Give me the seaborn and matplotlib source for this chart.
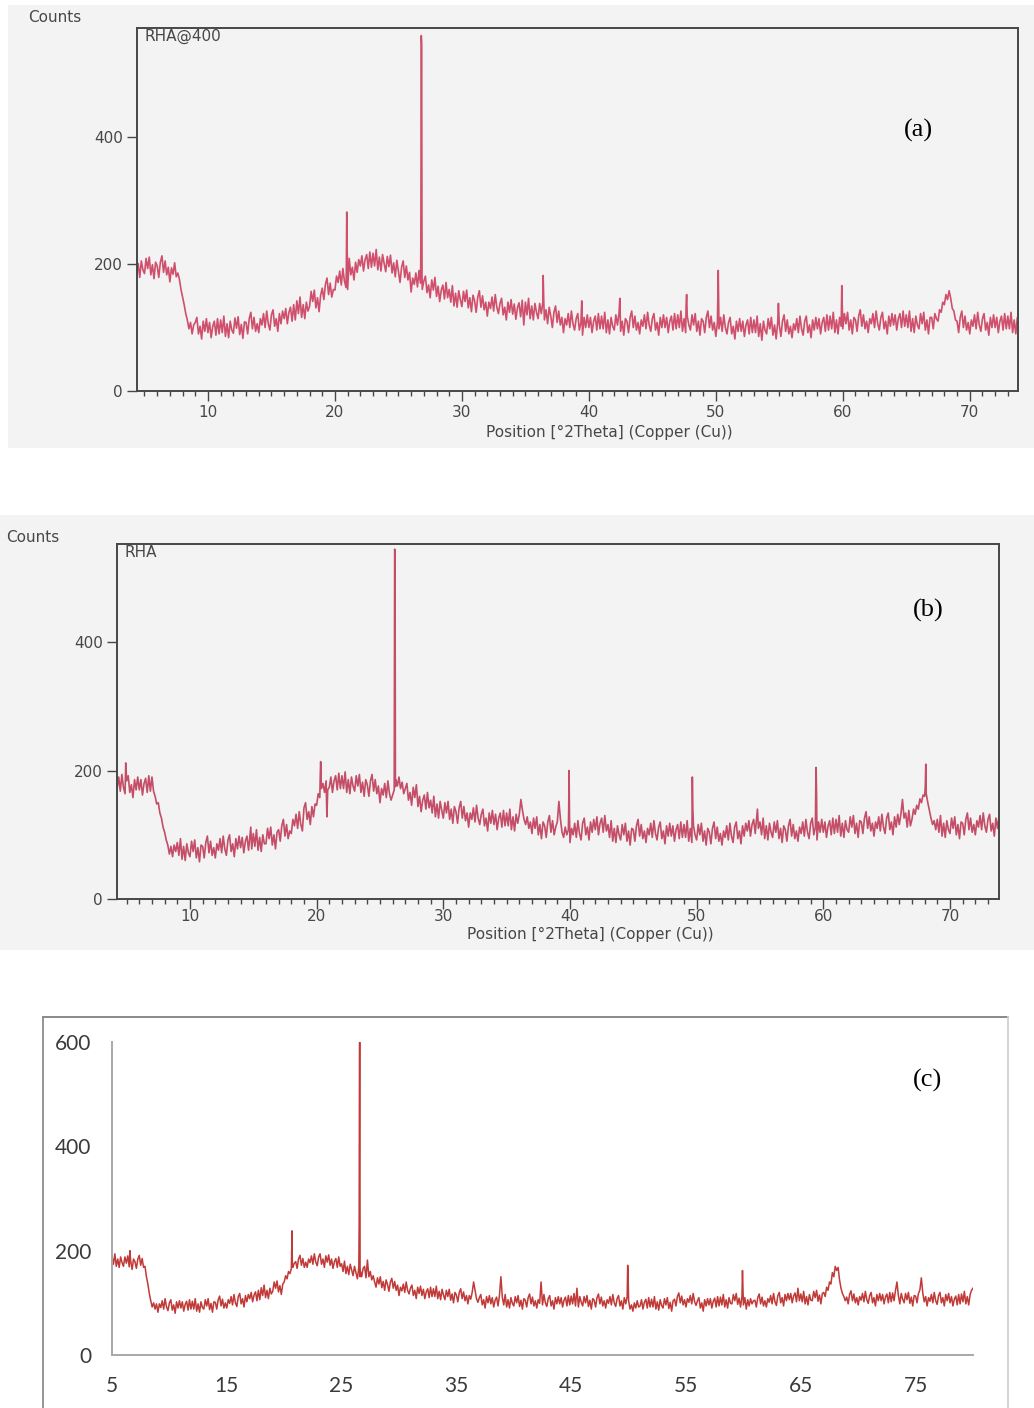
import numpy as np
import pandas as pd
import matplotlib
matplotlib.use('Agg')
import matplotlib.pyplot as plt
import seaborn as sns
from matplotlib.ticker import MultipleLocator
from matplotlib.lines import Line2D
from matplotlib.patches import Rectangle

# ---------------- data ----------------
# (a) RHA@400 : 4.0 .. 74.875 deg, step 0.125 (one row per degree)
theta_a = np.arange(4.0, 75.0, 0.125)
counts_a = [
    207, 187, 213, 181, 201, 179, 205, 191,
    185, 209, 193, 211, 183, 199, 177, 203,
    197, 179, 203, 213, 187, 205, 183, 195,
    172, 194, 184, 202, 180, 186, 176, 160,
    148, 136, 122, 112, 98, 108, 90, 104,
    108, 116, 90, 102, 82, 110, 94, 114,
    92, 108, 84, 102, 110, 88, 114, 90,
    112, 92, 118, 86, 106, 84, 110, 96,
    91, 115, 99, 117, 89, 105, 83, 109,
    108, 90, 114, 124, 98, 116, 94, 106,
    92, 114, 104, 122, 100, 126, 106, 96,
    120, 128, 102, 114, 94, 122, 106, 126,
    114, 130, 106, 124, 132, 110, 136, 112,
    142, 122, 148, 116, 136, 114, 140, 126,
    133, 157, 141, 159, 131, 147, 125, 151,
    162, 144, 168, 178, 152, 170, 148, 160,
    159, 181, 171, 189, 167, 193, 173, 163,
    160, 209, 183, 195, 175, 203, 187, 207,
    197, 213, 189, 207, 215, 193, 219, 195,
    217, 197, 223, 191, 211, 189, 215, 201,
    188, 212, 196, 214, 186, 202, 180, 206,
    189, 171, 195, 205, 179, 197, 175, 187,
    156, 178, 168, 186, 164, 190, 170, 160,
    173, 181, 155, 167, 147, 175, 159, 179,
    149, 165, 141, 159, 167, 145, 171, 147,
    160, 140, 166, 134, 154, 132, 158, 144,
    133, 157, 141, 159, 131, 147, 125, 151,
    142, 124, 148, 158, 132, 150, 128, 140,
    118, 140, 130, 148, 126, 152, 132, 122,
    138, 146, 120, 132, 112, 140, 124, 144,
    121, 137, 113, 131, 139, 117, 143, 104,
    140, 120, 146, 114, 134, 112, 138, 124,
    114, 138, 122, 140, 112, 128, 106, 132,
    118, 100, 124, 134, 108, 126, 104, 116,
    92, 114, 104, 122, 100, 126, 106, 96,
    114, 122, 96, 108, 88, 116, 100, 120,
    100, 116, 92, 110, 118, 96, 122, 98,
    118, 98, 124, 92, 112, 90, 116, 102,
    96, 120, 104, 122, 94, 110, 88, 114,
    110, 92, 116, 126, 100, 118, 96, 108,
    90, 112, 102, 120, 98, 124, 104, 94,
    114, 122, 96, 108, 88, 116, 100, 120,
    100, 116, 92, 110, 118, 96, 122, 98,
    120, 100, 126, 94, 114, 92, 118, 104,
    96, 120, 104, 122, 94, 110, 88, 114,
    110, 92, 116, 126, 100, 118, 96, 108,
    86, 108, 98, 116, 94, 120, 100, 90,
    108, 116, 90, 102, 82, 110, 94, 114,
    94, 110, 86, 104, 112, 90, 116, 92,
    112, 92, 118, 86, 106, 80, 110, 96,
    90, 114, 98, 116, 88, 104, 82, 108,
    104, 86, 110, 120, 94, 112, 90, 102,
    84, 106, 96, 114, 92, 118, 98, 88,
    110, 118, 92, 104, 84, 112, 96, 116,
    98, 114, 90, 108, 116, 94, 120, 96,
    118, 98, 124, 92, 112, 90, 116, 102,
    98, 122, 106, 124, 96, 112, 90, 116,
    112, 94, 118, 128, 102, 120, 98, 110,
    92, 114, 106, 122, 100, 126, 106, 96,
    116, 124, 98, 110, 90, 118, 102, 122,
    104, 120, 96, 114, 122, 100, 126, 102,
    120, 100, 126, 94, 114, 92, 118, 104,
    98, 122, 106, 124, 96, 112, 90, 116,
    116, 98, 122, 114, 110, 128, 124, 140,
    136, 152, 144, 158, 146, 130, 126, 112,
    110, 92, 116, 126, 100, 118, 96, 108,
    90, 112, 102, 120, 98, 124, 104, 94,
    114, 122, 96, 108, 88, 116, 100, 120,
    100, 116, 92, 110, 118, 96, 122, 98,
    118, 98, 124, 92, 112, 90, 116, 102,
    96, 120, 104, 122, 94, 110, 88, 114,
]
peaks_a_x = [20.90, 20.93, 20.96, 26.77, 26.80, 26.83, 26.86, 36.40, 36.45, 39.44,
             42.44, 47.66, 47.70, 50.16, 50.19, 50.22, 54.93, 59.92, 59.96]
peaks_a_y = [195, 282, 225, 250, 560, 545, 180, 182, 140, 142,
             146, 136, 152, 150, 190, 148, 138, 166, 128]

# (b) RHA : 4.0 .. 74.875 deg, step 0.125
theta_b = np.arange(4.0, 75.0, 0.125)
counts_b = [
    160, 182, 172, 190, 168, 194, 174, 164,
    184, 192, 166, 178, 158, 186, 170, 190,
    170, 186, 162, 180, 188, 166, 192, 168,
    190, 168, 160, 148, 150, 134, 126, 112,
    104, 92, 84, 70, 82, 66, 84, 74,
    88, 68, 94, 62, 82, 60, 86, 72,
    66, 90, 74, 92, 64, 80, 58, 84,
    82, 64, 88, 98, 72, 90, 68, 80,
    64, 86, 76, 94, 72, 98, 78, 68,
    92, 100, 74, 86, 66, 94, 78, 98,
    80, 96, 72, 90, 98, 76, 102, 78,
    102, 82, 108, 76, 96, 74, 100, 86,
    86, 110, 94, 112, 84, 100, 78, 104,
    108, 90, 114, 124, 98, 116, 94, 106,
    102, 124, 114, 132, 110, 136, 116, 106,
    142, 150, 124, 136, 116, 144, 128, 148,
    146, 164, 158, 172, 180, 166, 184, 170,
    174, 190, 166, 184, 192, 170, 196, 172,
    192, 172, 198, 166, 186, 164, 190, 176,
    168, 192, 176, 194, 166, 182, 160, 186,
    178, 160, 184, 194, 168, 186, 164, 176,
    150, 172, 162, 180, 158, 184, 164, 154,
    162, 170, 186, 176, 190, 172, 182, 164,
    172, 180, 154, 166, 146, 174, 158, 178,
    144, 160, 136, 154, 162, 140, 166, 142,
    154, 134, 160, 128, 148, 126, 152, 138,
    126, 150, 134, 152, 124, 140, 118, 144,
    136, 118, 142, 152, 126, 144, 122, 134,
    112, 134, 124, 142, 120, 146, 126, 116,
    132, 140, 114, 126, 106, 134, 118, 138,
    116, 132, 108, 126, 134, 112, 138, 114,
    134, 114, 140, 108, 128, 106, 132, 118,
    132, 155, 138, 124, 116, 128, 110, 120,
    102, 126, 110, 128, 100, 116, 94, 120,
    114, 96, 120, 130, 104, 122, 100, 112,
    120, 152, 124, 104, 96, 112, 100, 108,
    88, 110, 100, 118, 96, 122, 102, 92,
    118, 126, 100, 112, 92, 120, 104, 124,
    108, 128, 100, 118, 126, 104, 130, 106,
    116, 96, 122, 90, 110, 88, 114, 100,
    92, 116, 100, 118, 90, 106, 84, 110,
    108, 90, 114, 124, 98, 116, 94, 106,
    88, 110, 100, 118, 96, 122, 102, 92,
    112, 120, 94, 106, 86, 114, 98, 118,
    98, 114, 90, 108, 116, 94, 120, 96,
    116, 96, 122, 90, 110, 88, 114, 100,
    92, 116, 100, 118, 90, 106, 84, 110,
    104, 86, 110, 120, 94, 112, 90, 102,
    84, 106, 96, 114, 92, 118, 98, 88,
    112, 120, 94, 106, 86, 114, 98, 118,
    106, 122, 98, 116, 124, 102, 128, 110,
    120, 100, 126, 94, 114, 92, 118, 104,
    96, 120, 104, 122, 94, 110, 88, 114,
    108, 90, 114, 124, 98, 116, 94, 106,
    90, 112, 102, 120, 98, 124, 104, 94,
    118, 126, 100, 112, 92, 120, 104, 124,
    104, 120, 96, 114, 122, 100, 126, 102,
    124, 104, 130, 98, 118, 96, 122, 108,
    104, 128, 112, 130, 102, 118, 96, 122,
    120, 102, 126, 136, 110, 128, 106, 118,
    98, 120, 110, 128, 106, 132, 112, 102,
    126, 134, 108, 120, 100, 128, 112, 132,
    116, 132, 155, 126, 134, 112, 138, 114,
    124, 140, 132, 146, 140, 156, 150, 162,
    160, 164, 150, 138, 126, 116, 122, 108,
    124, 104, 130, 98, 118, 96, 122, 108,
    102, 126, 110, 128, 100, 116, 94, 120,
    118, 100, 124, 134, 108, 126, 104, 116,
    100, 122, 112, 130, 108, 134, 114, 104,
    124, 132, 106, 118, 98, 126, 110, 130,
    108, 124, 100, 118, 126, 104, 130, 106,
]
peaks_b_x = [4.93, 14.80, 20.29, 20.32, 20.35, 20.81, 26.14, 26.16, 26.19, 26.22,
             39.90, 39.93, 39.96, 49.66, 49.70, 54.80, 59.40, 59.43, 59.47,
             68.05, 68.09, 68.12]
peaks_b_y = [212, 112, 195, 214, 190, 128, 300, 545, 540, 175,
             140, 200, 130, 190, 140, 140, 165, 205, 160,
             175, 210, 172]

# (c) replot : 5.0 .. 80.0 deg, step 0.125
theta_c = np.arange(5.0, 80.01, 0.125)
counts_c = [
    189, 174, 194, 170, 184, 168, 188, 177,
    170, 188, 176, 190, 169, 181, 164, 184,
    179, 166, 184, 191, 172, 185, 168, 170,
    150, 136, 118, 104, 92, 100, 88, 98,
    82, 98, 91, 104, 88, 108, 92, 85,
    100, 106, 86, 96, 80, 102, 90, 104,
    90, 102, 84, 97, 103, 86, 106, 88,
    103, 88, 108, 84, 98, 82, 102, 91,
    88, 106, 94, 108, 87, 99, 82, 102,
    101, 88, 106, 113, 94, 107, 90, 100,
    90, 106, 99, 112, 96, 116, 100, 93,
    112, 118, 98, 108, 92, 114, 102, 116,
    108, 120, 102, 115, 121, 104, 124, 106,
    129, 114, 134, 110, 124, 108, 128, 117,
    122, 140, 128, 142, 121, 133, 116, 136,
    140, 152, 146, 160, 156, 166, 168, 176,
    179, 166, 184, 191, 172, 185, 168, 178,
    168, 184, 177, 190, 174, 194, 178, 171,
    188, 194, 174, 184, 168, 190, 178, 192,
    172, 184, 166, 179, 185, 168, 188, 170,
    175, 160, 180, 156, 170, 154, 174, 163,
    152, 170, 158, 146, 168, 162, 150, 166,
    170, 148, 182, 150, 160, 144, 152, 140,
    130, 148, 136, 150, 129, 141, 124, 144,
    135, 122, 140, 147, 128, 141, 124, 134,
    114, 130, 123, 136, 120, 140, 124, 117,
    128, 134, 114, 124, 108, 130, 118, 132,
    114, 126, 108, 121, 127, 110, 130, 112,
    127, 112, 132, 108, 122, 106, 126, 115,
    106, 124, 112, 126, 105, 117, 100, 120,
    115, 102, 120, 127, 108, 121, 104, 114,
    98, 114, 107, 120, 140, 124, 108, 101,
    110, 116, 96, 106, 90, 112, 100, 114,
    98, 110, 92, 105, 111, 94, 114, 150,
    111, 96, 116, 92, 106, 90, 110, 99,
    94, 112, 100, 114, 93, 105, 88, 108,
    105, 92, 110, 117, 98, 111, 94, 104,
    90, 106, 99, 140, 96, 116, 100, 93,
    108, 114, 94, 104, 88, 110, 98, 112,
    98, 110, 92, 105, 111, 94, 114, 96,
    113, 98, 118, 94, 128, 92, 112, 101,
    94, 112, 100, 114, 93, 105, 88, 108,
    105, 92, 110, 117, 98, 111, 94, 104,
    90, 106, 99, 112, 96, 116, 100, 93,
    108, 114, 94, 104, 88, 110, 98, 112,
    104, 88, 96, 84, 100, 90, 104, 92,
    94, 106, 88, 101, 107, 90, 110, 92,
    107, 92, 112, 88, 102, 86, 106, 95,
    90, 108, 96, 110, 89, 101, 84, 104,
    107, 94, 112, 119, 100, 113, 96, 106,
    92, 108, 101, 114, 98, 118, 102, 95,
    104, 110, 90, 100, 84, 106, 94, 108,
    96, 108, 90, 103, 109, 92, 112, 94,
    111, 96, 116, 92, 106, 90, 110, 99,
    98, 116, 104, 118, 97, 109, 92, 112,
    96, 110, 88, 106, 94, 108, 98, 104,
    105, 92, 110, 117, 98, 111, 94, 104,
    92, 108, 101, 114, 98, 118, 102, 95,
    114, 120, 100, 110, 94, 116, 104, 118,
    106, 118, 100, 113, 119, 102, 128, 104,
    117, 102, 122, 98, 112, 96, 116, 105,
    104, 122, 110, 124, 103, 115, 98, 118,
    120, 112, 130, 124, 140, 136, 158, 150,
    170, 162, 168, 144, 128, 118, 112, 104,
    111, 98, 116, 123, 104, 117, 100, 110,
    96, 112, 105, 118, 102, 122, 106, 99,
    114, 120, 100, 110, 94, 116, 104, 118,
    104, 116, 98, 111, 117, 100, 120, 102,
    119, 104, 124, 140, 114, 98, 118, 107,
    100, 118, 106, 120, 99, 111, 94, 114,
    113, 100, 118, 125, 148, 119, 102, 112,
    94, 110, 103, 116, 100, 120, 104, 97,
    114, 120, 100, 110, 94, 116, 104, 118,
    100, 112, 94, 107, 113, 96, 116, 98,
    117, 102, 122, 98, 112, 96, 116, 124,
    128,
]
peaks_c_x = [6.56, 20.65, 20.68, 20.71, 26.53, 26.56, 26.59, 26.61,
             49.92, 49.96, 59.92, 59.96]
peaks_c_y = [200, 200, 238, 172, 255, 600, 600, 150,
             172, 150, 162, 130]

xlabel_text = 'Position [°2Theta] (Copper (Cu))'

# ---------------- figure ----------------
W, H = 1034, 1408
fig = plt.figure(figsize=(W / 100, H / 100), dpi=100)
plt.rcParams['font.family'] = ['DejaVu Sans']


def frac(x0, y0, x1, y1):
    return [x0 / W, 1 - y1 / H, (x1 - x0) / W, (y1 - y0) / H]


def trace(theta, counts, px, py):
    df = pd.DataFrame({'theta': np.concatenate([theta, px]),
                       'counts': np.concatenate([counts, py])})
    return df.sort_values('theta')


paper = '#f2f3f2'
ink = '#474747'
fs = 11

# scanned panels (a) and (b)
scan_panels = [
    dict(bg=(8, 5, 1034, 448), box=(137, 28, 1018, 391), xlim=(4.41, 73.8), ylim=(0, 572),
         df=trace(theta_a, counts_a, peaks_a_x, peaks_a_y), color='#cf4f6c', pad=3,
         counts_xy=(28, 18), name='RHA@400', xl_xy=(609, 432), tag='(a)', tag_xy=(918, 130)),
    dict(bg=(0, 515, 1034, 950), box=(117, 544, 999, 899), xlim=(4.24, 73.87), ylim=(0, 553),
         df=trace(theta_b, counts_b, peaks_b_x, peaks_b_y), color='#c44d68', pad=0,
         counts_xy=(6, 538), name='RHA', xl_xy=(590, 934), tag='(b)', tag_xy=(928, 610)),
]

for p in scan_panels:
    x0, y0, x1, y1 = p['bg']
    fig.add_artist(Rectangle((x0 / W, 1 - y1 / H), (x1 - x0) / W, (y1 - y0) / H,
                             transform=fig.transFigure, fc=paper, ec='none', zorder=0))
    ax = fig.add_axes(frac(*p['box']))
    ax.set_facecolor(paper)
    sns.lineplot(data=p['df'], x='theta', y='counts', estimator=None, sort=False,
                 color=p['color'], lw=1.2, ax=ax)
    ax.set_xlim(p['xlim'])
    ax.set_ylim(p['ylim'])
    ax.set_xlabel('')
    ax.set_ylabel('')
    ax.set_yticks([0, 200, 400])
    ax.xaxis.set_major_locator(MultipleLocator(10))
    ax.xaxis.set_minor_locator(MultipleLocator(1))
    ax.tick_params(axis='both', which='major', direction='out', length=7, width=1,
                   color=ink, labelcolor=ink, labelsize=fs, pad=3)
    ax.tick_params(axis='x', which='major', pad=p['pad'])
    ax.tick_params(axis='x', which='minor', direction='out', length=3.5, width=1, color=ink)
    for s in ax.spines.values():
        s.set_color(ink)
        s.set_linewidth(1.4)
    ax.text(0.009, 0.998, p['name'], transform=ax.transAxes, ha='left', va='top',
            fontsize=fs, color=ink)
    cx, cy = p['counts_xy']
    fig.text(cx / W, 1 - cy / H, 'Counts', ha='left', va='center', fontsize=fs, color=ink)
    lx, ly = p['xl_xy']
    fig.text(lx / W, 1 - ly / H, xlabel_text, ha='center', va='center', fontsize=fs, color=ink)
    tx, ty = p['tag_xy']
    fig.text(tx / W, 1 - ty / H, p['tag'], ha='center', va='center', fontsize=19,
             family='Liberation Serif', color='black')

# replotted panel (c)
frame = [((43, 1017), (1008, 1017), '#808080'),
         ((43, 1017), (43, 1408), '#8c8c8c'),
         ((1008, 1017), (1008, 1408), '#d0d0d0')]
for (ax0, ay0), (ax1, ay1), c in frame:
    fig.add_artist(Line2D([ax0 / W, ax1 / W], [1 - ay0 / H, 1 - ay1 / H],
                          transform=fig.transFigure, color=c, lw=1.3))

axc = fig.add_axes(frac(112, 1042, 973, 1355))
sns.lineplot(data=trace(theta_c, counts_c, peaks_c_x, peaks_c_y), x='theta', y='counts',
             estimator=None, sort=False, color='#c03a38', lw=1.1, ax=axc)
axc.set_xlim(5, 80)
axc.set_ylim(0, 600)
axc.set_xlabel('')
axc.set_ylabel('')
axc.set_yticks([0, 200, 400, 600])
axc.set_xticks([5, 15, 25, 35, 45, 55, 65, 75])
axc.tick_params(axis='both', length=0, labelsize=15, labelcolor='#3a3a3a')
axc.tick_params(axis='y', pad=15)
axc.tick_params(axis='x', pad=15)
for lab in axc.get_xticklabels() + axc.get_yticklabels():
    lab.set_family('Lato')
for side in ['top', 'right']:
    axc.spines[side].set_visible(False)
for side in ['left', 'bottom']:
    axc.spines[side].set_color('#a8a8a8')
    axc.spines[side].set_linewidth(1.4)
fig.text(928 / W, 1 - 1080 / H, '(c)', ha='center', va='center', fontsize=19,
         family='Liberation Serif', color='black')

fig.savefig('out.png', dpi=100, facecolor='white')
